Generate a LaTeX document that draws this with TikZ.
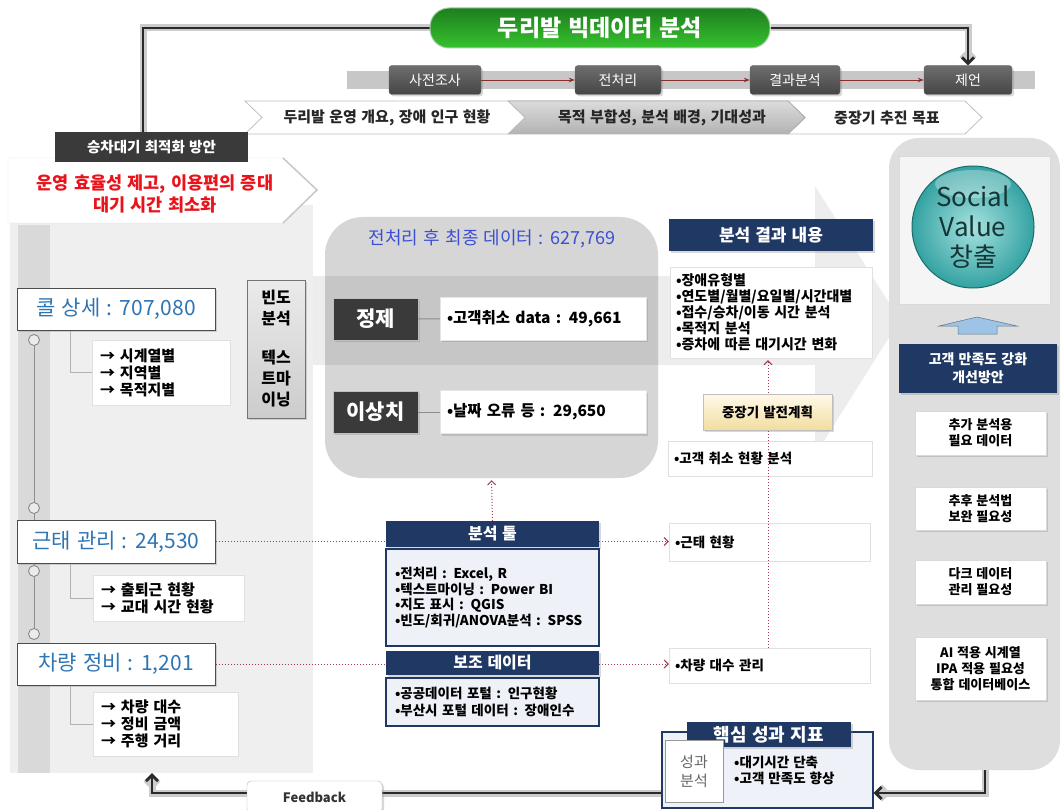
\documentclass[tikz,border=0pt]{standalone}
\usepackage{fontspec}
\setmainfont{Noto Sans CJK KR}[WordSpace=1.3]
\usetikzlibrary{shadows,arrows.meta}
\pgfdeclarelayer{bg}
\pgfsetlayers{bg,main}
\definecolor{navy}{HTML}{203864}
\definecolor{darkbox}{HTML}{3A3A3A}
\definecolor{procA}{HTML}{6E6E6E}
\definecolor{procB}{HTML}{454545}
\definecolor{procred}{HTML}{8B2E2E}
\definecolor{redtxt}{HTML}{E8141C}
\definecolor{bluetxt}{HTML}{2E75B6}
\definecolor{titleblue}{HTML}{3C4FD4}
\definecolor{dotred}{HTML}{A03C50}
\definecolor{flowdark}{HTML}{2A2A2A}
\definecolor{panelgray}{HTML}{EFEFEF}
\definecolor{stripgray}{HTML}{D9D9D9}
\definecolor{midgray}{HTML}{D6D6D6}
\definecolor{rightgray}{HTML}{DEDEDE}
\definecolor{lightblue}{HTML}{EEF1F7}
\definecolor{arrowblue}{HTML}{9DC3E6}
\definecolor{greenA}{HTML}{1E7E1E}
\definecolor{greenB}{HTML}{36C22E}
\definecolor{tealA}{HTML}{A6E2E0}
\definecolor{tealB}{HTML}{34A2A2}
\definecolor{tealD}{HTML}{1B6B6B}
\definecolor{tealT}{HTML}{163636}
\definecolor{yelA}{HTML}{FFF9EA}
\definecolor{yelB}{HTML}{F2DDA0}
\newcommand\myfs[2]{\fontsize{#1}{#2}\selectfont}
\begin{document}
\begin{tikzpicture}[x=1pt,y=-1pt,
  shad/.style={drop shadow={shadow xshift=2pt,shadow yshift=-2pt,opacity=0.3}},
  banner/.style={rounded corners=19pt, top color=greenA, bottom color=greenB, draw=white!60!greenA, line width=1pt, minimum width=340pt, minimum height=40pt, inner sep=0pt, text=white, font=\bfseries\myfs{23}{26}},
  procbox/.style={rounded corners=3pt, top color=procA, bottom color=procB, draw=black!60, text=white, font=\myfs{14}{16}, minimum height=29pt, inner sep=0pt, shad},
  chevtxt/.style={font=\bfseries\myfs{15}{17}, text=black!85, inner sep=0pt},
  databox/.style={fill=white, draw=black!70, line width=1pt, text=bluetxt, font=\myfs{21}{24}, minimum width=198pt, inner sep=0pt, shad},
  subbox/.style={fill=white, draw=black!12, font=\bfseries\myfs{15}{17}, align=left, inner xsep=8pt, inner ysep=0pt},
  darkbtn/.style={fill=darkbox, draw=black!25, text=white, font=\bfseries\myfs{21}{24}, minimum width=85pt, minimum height=42pt, inner sep=0pt, shad},
  infobox/.style={fill=white, draw=black!10, font=\bfseries\myfs{15.5}{18}, minimum height=43pt, text width=192pt, inner xsep=7pt, inner ysep=0pt, align=left, shad},
  navyhead/.style={fill=navy, text=white, inner sep=0pt, shad},
  resbox/.style={fill=white, draw=black!12, align=left, inner xsep=6pt, inner ysep=0pt},
  toolbox/.style={fill=lightblue, draw=navy, line width=1.3pt, align=left, inner xsep=9pt, inner ysep=0pt, font=\bfseries\myfs{13.5}{15.5}},
  rbox/.style={fill=white, draw=black!15, font=\bfseries\myfs{13}{16}, align=center, minimum width=131pt, inner sep=0pt, shad},
  planbox/.style={top color=yelA, bottom color=yelB, draw=black!25, font=\bfseries\myfs{13.5}{16}, minimum width=129pt, minimum height=36pt, inner sep=0pt, shad},
  flowline/.style={line width=2.8pt, draw=flowdark, preaction={draw=black!20, line width=7pt}},
  bigtip/.style={-{Straight Barb[length=6pt,width=12pt]}},
  dotline/.style={draw=dotred, line width=1pt, dotted},
  dotarr/.style={dotline, -{Straight Barb[length=4pt,width=8pt]}},
  procarr/.style={draw=procred, line width=0.9pt, -{Stealth[length=6pt,width=4.5pt]}},
  bracket/.style={draw=black!30, line width=0.8pt},
  circ/.style={circle, draw=black!50, fill=black!8, minimum size=11pt, inner sep=0pt, line width=0.8pt}
]
\useasboundingbox (0,0) rectangle (1062,810);
\coordinate (lx) at (143,0);
\coordinate (bx) at (70,0);
\coordinate (vx) at (768,0);
\coordinate (fbr) at (985,793);
\coordinate (fbl) at (152,793);

\begin{pgfonlayer}{bg}
\fill[white] (0,0) rectangle (1062,810);
\node[fill=panelgray, minimum width=303pt, minimum height=568pt, inner sep=0pt] (lpanel) at (161.5,489) {};
\fill[stripgray] (18,225) rectangle (50,773);
\filldraw[fill=white, draw=black!12] (8,158) -- (283,158) -- (317,190) -- (283,223) -- (8,223) -- cycle;
\draw[black!22, line width=1.5pt] (283,158) -- (317,190) -- (283,223);
\node[fill=midgray, rounded corners=38pt, minimum width=333pt, minimum height=261pt, inner sep=0pt] (mid) at (491.5,347.5) {};
\fill[black, opacity=0.07] (313,276) -- (815,276) -- (815,186) -- (900,320) -- (815,455) -- (815,365) -- (313,365) -- cycle;
\node[fill=rightgray, rounded corners=30pt, minimum width=171pt, minimum height=632pt, inner sep=0pt] (rpanel) at (974.5,454) {};
\end{pgfonlayer}

% top process
\fill[black!22] (347,71) rectangle (1035,89);
\node[banner] (banner) at (600,28) {두리발 빅데이터 분석};
\node[procbox, minimum width=92pt] (p1) at (435,80) {사전조사};
\node[procbox, minimum width=86pt] (p2) at (618,80) {전처리};
\node[procbox, minimum width=90pt] (p3) at (795,80) {결과분석};
\node[procbox, minimum width=88pt] (p4) at (968,80) {제언};
\draw[procarr] (p1) -- (p2);
\draw[procarr] (p2) -- (p3);
\draw[procarr] (p3) -- (p4);

% chevrons
\filldraw[fill=white, draw=black!25, line width=0.8pt] (788,101) -- (965,101) -- (982,117.5) -- (965,134) -- (788,134) -- (805,117.5) -- cycle;
\filldraw[top color=black!14, bottom color=black!30, draw=black!30, line width=0.8pt] (508,101) -- (788,101) -- (805,117.5) -- (788,134) -- (508,134) -- (525,117.5) -- cycle;
\filldraw[fill=white, draw=black!25, line width=0.8pt] (245,101) -- (508,101) -- (525,117.5) -- (508,134) -- (245,134) -- (262,117.5) -- cycle;
\node[chevtxt] (c1t) at (387,118) {두리발 운영 개요, 장애 인구 현황};
\node[chevtxt] (c2t) at (662,118) {목적 부합성, 분석 배경, 기대성과};
\node[chevtxt] (c3t) at (887,118) {중장기 추진 목표};

% goal
\node[fill=darkbox, text=white, font=\bfseries\myfs{14.5}{16}, minimum width=193pt, minimum height=30pt, inner sep=0pt] (goal) at (151.5,147) {승차대기 최적화 방안};
\node[font=\bfseries\myfs{17.5}{22}, text=redtxt, align=center] (aim) at (155,194) {운영 효율성 제고, 이용편의 증대\\대기 시간 최소화};

% left column
\node[circ] (c1) at (34,340) {};
\node[circ] (c2) at (34,508) {};
\node[circ] (c3) at (34,571) {};
\node[circ] (c4) at (34,634) {};
\draw[black!45, line width=1pt] (c1) -- (c2);
\draw[black!45, line width=1pt] (c2) -- (c3);
\draw[black!45, line width=1pt] (c3) -- (c4);
\node[databox, minimum height=42pt] (cb1) at (116,309) {콜 상세 : 707,080};
\node[databox, minimum height=43pt] (cb2) at (116,541.5) {근태 관리 : 24,530};
\node[databox, minimum height=42pt] (cb3) at (116,664) {차량 정비 : 1,201};
\node[subbox, minimum width=138pt, minimum height=65pt, text width=122pt] (sb1) at (161,372.5) {→ 시계열별\\→ 지역별\\→ 목적지별};
\node[subbox, minimum width=151pt, minimum height=46pt, text width=135pt] (sb2) at (168.5,598) {→ 출퇴근 현황\\→ 교대 시간 현황};
\node[subbox, minimum width=145pt, minimum height=64pt, text width=129pt] (sb3) at (165.5,724) {→ 차량 대수\\→ 정비 금액\\→ 주행 거리};
\draw[bracket] (cb1.south -| bx) |- (sb1.west);
\draw[bracket] (cb2.south -| bx) |- (sb2.west);
\draw[bracket] (cb3.south -| bx) |- (sb3.west);
\node[top color=black!8, bottom color=black!20, draw=black!55, line width=0.8pt, minimum width=58pt, minimum height=138pt, inner sep=0pt, align=center, font=\bfseries\myfs{16}{21}, shad] (freq) at (276,349) {빈도\\분석\\[18pt]텍스\\트마\\이닝};

% middle
\node[font=\myfs{18}{20}, text=titleblue] (midt) at (492,239) {전처리 후 최종 데이터 : 627,769};
\node[darkbtn] (jz) at (375.5,319) {정제};
\node[darkbtn] (iz) at (375.5,412) {이상치};
\node[infobox] (d1) at (543,318.5) {•고객취소 data : 49,661};
\node[infobox] (d2) at (543,412) {•날짜 오류 등 : 29,650};
\draw[black!45, line width=1pt] (jz) -- (d1);
\draw[black!45, line width=1pt] (iz) -- (d2);

\node[navyhead, font=\bfseries\myfs{16}{18}, minimum width=213pt, minimum height=26pt] (toolh) at (492.5,534) {분석 툴};
\node[toolbox, minimum width=213pt, minimum height=97pt, text width=195pt] (toolc) at (492.5,597.5) {•전처리 : Excel, R\\•텍스트마이닝 : Power BI\\•지도 표시 : QGIS\\•빈도/회귀/ANOVA분석 : SPSS};
\node[navyhead, font=\bfseries\myfs{16}{18}, minimum width=213pt, minimum height=24pt] (subh) at (492.5,663) {보조 데이터};
\node[toolbox, font=\bfseries\myfs{13.5}{17}, minimum width=213pt, minimum height=48pt, text width=195pt] (subc) at (492.5,702) {•공공데이터 포털 : 인구현황\\•부산시 포털 데이터 : 장애인수};
\draw[dotarr, shorten >=2pt] (toolh.north) -- (mid.south);

% results column
\node[navyhead, font=\bfseries\myfs{17}{19}, minimum width=204pt, minimum height=32pt] (resh) at (771,235) {분석 결과 내용};
\node[resbox, font=\bfseries\myfs{14}{16}, minimum width=202pt, minimum height=91pt, text width=190pt] (res) at (771,312.5) {•장애유형별\\•연도별/월별/요일별/시간대별\\•접수/승차/이동 시간 분석\\•목적지 분석\\•증차에 따른 대기시간 변화};
\node[resbox, font=\bfseries\myfs{13.5}{16}, minimum width=204pt, minimum height=35pt, text width=192pt] (cancel) at (770,458.5) {•고객 취소 현황 분석};
\node[resbox, font=\bfseries\myfs{13.5}{16}, minimum width=201pt, minimum height=38pt, text width=189pt] (att) at (769.5,542) {•근태 현황};
\node[resbox, font=\bfseries\myfs{13.5}{16}, minimum width=201pt, minimum height=35pt, text width=189pt] (car) at (769.5,665.5) {•차량 대수 관리};
\draw[dotarr] (car.north -| vx) -- ([yshift=-2pt]res.south -| vx);
\node[planbox] (plan) at (767.5,412) {중장기 발전계획};
\draw[dotline] (cb2.east) -- (cb2.east -| toolh.west);
\draw[dotarr] (cb2.east -| toolh.east) -- (cb2.east -| att.west);
\draw[dotline] (cb3.east) -- (cb3.east -| subh.west);
\draw[dotarr] (cb3.east -| subh.east) -- (cb3.east -| car.west);

% right column
\node[fill=black!4, draw=black!15, minimum width=151pt, minimum height=148pt, inner sep=0pt] (inner) at (974.5,230) {};
\node[circle, minimum size=122pt, inner sep=0pt, shading=radial, inner color=tealA, outer color=tealB, draw=tealD, line width=1pt] (sv) at (973,227) {};
\fill[white, opacity=0.3] (973,184) ellipse (38pt and 14pt);
\node[align=center, font=\myfs{26}{30}, text=tealT] (svt) at (sv.center) {Social\\Value\\창출};
\filldraw[fill=arrowblue, draw=arrowblue!60!black, line width=0.5pt] (939,326) -- (977,317) -- (1017,326) -- (997,326) -- (997,334) -- (958,334) -- (958,326) -- cycle;
\node[navyhead, font=\bfseries\myfs{14}{18}, align=center, minimum width=158pt, minimum height=49pt] (sat) at (978,368.5) {고객 만족도 강화\\개선방안};
\node[rbox, minimum height=44pt] (r1) at (980.5,433) {추가 분석용\\필요 데이터};
\node[rbox, minimum height=43pt] (r2) at (980.5,508.5) {추후 분석법\\보완 필요성};
\node[rbox, minimum height=44pt] (r3) at (980.5,582) {다크 데이터\\관리 필요성};
\node[rbox, minimum height=63pt] (r4) at (980.5,668.5) {AI 적용 시계열\\IPA 적용 필요성\\통합 데이터베이스};

% KPI
\node[fill=lightblue, draw=navy, line width=1.2pt, minimum width=211pt, minimum height=76pt, inner sep=0pt] (kpi) at (767.5,770) {};
\node[navyhead, font=\bfseries\myfs{18}{20}, minimum width=164pt, minimum height=25pt] (kpih) at (769,734.5) {핵심 성과 지표};
\node[fill=white, draw=black!40, minimum width=58pt, minimum height=62pt, inner sep=0pt, align=center, font=\myfs{15}{19}, text=black!60] (kpil) at (694,771) {성과\\분석};
\node[anchor=west, align=left, font=\bfseries\myfs{13.5}{16}, inner sep=0pt] (kpit) at (734,770.5) {•대기시간 단축\\•고객 만족도 향상};

% feedback
\node[fill=white, draw=black!30, rounded corners=4pt, minimum width=135pt, minimum height=32pt, inner sep=0pt, font=\bfseries\myfs{13}{15}, text=black!80, shad] (fbk) at (314.5,797) {Feedback};

\begin{pgfonlayer}{bg}
\draw[flowline] (banner.west) -| (goal.north -| lx);
\draw[flowline, bigtip] (banner.east) -| (p4.north);
\draw[flowline, bigtip] (rpanel.south -| fbr) |- (kpi.east |- fbr);
\draw[flowline, bigtip] (kpi.west |- fbl) -| (lpanel.south -| fbl);
\end{pgfonlayer}
\end{tikzpicture}
\end{document}
